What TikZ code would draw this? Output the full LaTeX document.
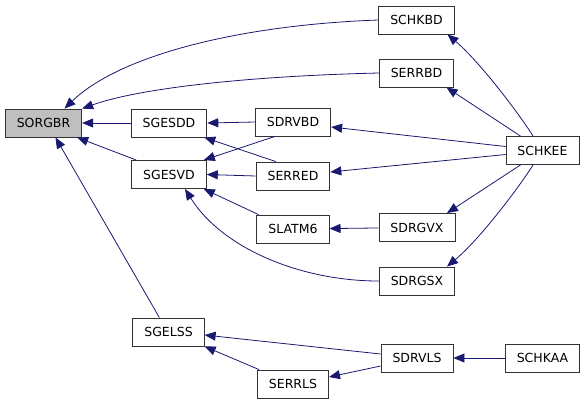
\documentclass[tikz,border=0pt]{standalone}
\usepackage{fontspec}
\setmainfont{DejaVu Sans}
\usetikzlibrary{arrows.meta}
\definecolor{edgeblue}{RGB}{25,25,112}
\definecolor{boxgray}{RGB}{191,191,191}

\begin{document}
\begin{tikzpicture}[x=1bp, y=-1bp, >={Triangle[length=11bp,width=9bp]},
    fn/.style={draw=black!80, line width=0.9bp, fill=white, inner xsep=11.5bp, inner ysep=0pt, minimum height=28bp, font=\fontsize{12.5bp}{15bp}\selectfont},
    edge/.style={->, draw=edgeblue, line width=0.8bp}]
    \useasboundingbox (0,0) rectangle (587,404);
    \node[fn, fill=boxgray] (sorgbr) at (43.5,123) {SORGBR};
    \node[fn] (sgesdd) at (169,123) {SGESDD};
    \node[fn] (sgesvd) at (169,174.5) {SGESVD};
    \node[fn] (sgelss) at (168.5,332) {SGELSS};
    \node[fn] (sdrvbd) at (293,122) {SDRVBD};
    \node[fn] (serred) at (293,176) {SERRED};
    \node[fn] (slatm6) at (293,229) {SLATM6};
    \node[fn] (serrls) at (293,384) {SERRLS};
    \node[fn] (schkbd) at (416.5,20) {SCHKBD};
    \node[fn] (serrbd) at (416.5,73) {SERRBD};
    \node[fn] (sdrgvx) at (417,227.5) {SDRGVX};
    \node[fn] (sdrgsx) at (417,281) {SDRGSX};
    \node[fn] (sdrvls) at (417,358) {SDRVLS};
    \node[fn] (schkee) at (542.5,150.5) {SCHKEE};
    \node[fn] (schkaa) at (542.5,358) {SCHKAA};
    \draw[edge] (schkbd.west) .. controls (240,25) and (120,55) .. ([xshift=21bp]sorgbr.north);
    \draw[edge] (serrbd.west) .. controls (250,76) and (140,88) .. (sorgbr.north east);
    \draw[edge] (sgesdd) -- (sorgbr);
    \draw[edge] ([xshift=5bp]sgesvd.north west) -- ([xshift=-5bp]sorgbr.south east);
    \draw[edge] ([xshift=27bp]sgelss.north west) -- ([xshift=12bp]sorgbr.south);
    \draw[edge] (sdrvbd.west) -- (sgesdd.east);
    \draw[edge] ([xshift=20bp]serred.north west) -- ([xshift=-3bp]sgesdd.south east);
    \draw[edge] ([xshift=20bp]sdrvbd.south west) -- ([xshift=-3bp]sgesvd.north east);
    \draw[edge] (serred.west) -- (sgesvd.east);
    \draw[edge] ([xshift=2bp]slatm6.north west) -- ([xshift=-3bp]sgesvd.south east);
    \draw[edge] (sdrgvx) -- (slatm6);
    \draw[edge] (sdrgsx.west) .. controls (300,281) and (222,248) .. ([xshift=16bp]sgesvd.south);
    \draw[edge] ([xshift=-9.5bp]schkee.north) .. controls (520,115) and (480,62) .. ([xshift=31bp]schkbd.south);
    \draw[edge] ([xshift=-22bp]schkee.north) -- ([xshift=30bp]serrbd.south);
    \draw[edge] ([yshift=4bp]schkee.west) -- ([yshift=-5bp]sdrvbd.east);
    \draw[edge] ([yshift=-4bp]schkee.west) -- ([yshift=4bp]serred.east);
    \draw[edge] ([xshift=-22bp]schkee.south) -- ([xshift=30bp]sdrgvx.north);
    \draw[edge] ([xshift=-9.5bp]schkee.south) .. controls (520,186) and (480,239) .. ([xshift=30bp]sdrgsx.north);
    \draw[edge] ([yshift=4bp]sdrvls.west) -- ([yshift=-3bp]sgelss.east);
    \draw[edge] ([xshift=2bp]serrls.north west) -- (sgelss.south east);
    \draw[edge] ([yshift=-8bp]sdrvls.west) -- ([yshift=7bp]serrls.east);
    \draw[edge] (schkaa) -- (sdrvls);
\end{tikzpicture}
\end{document}
